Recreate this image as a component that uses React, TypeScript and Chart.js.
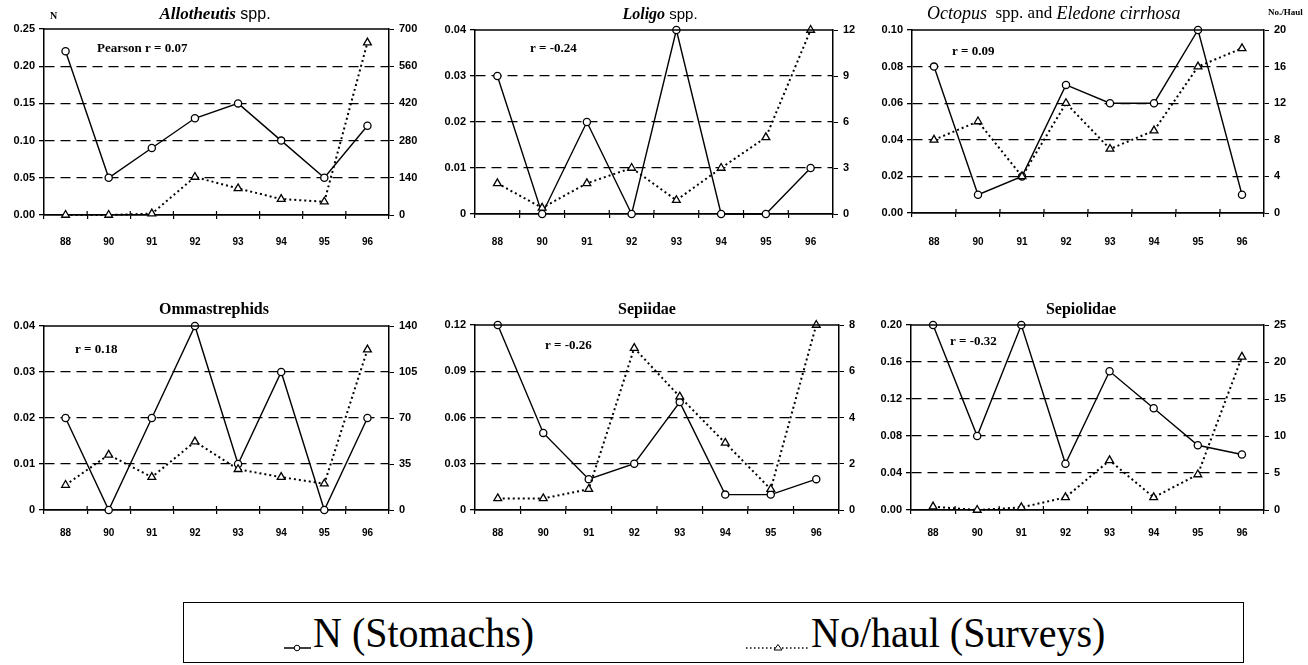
import React, { useEffect, useRef } from "react";
import { Chart, registerables } from "chart.js";

Chart.register(...registerables);

// ---------- data ----------
const years = ["88", "90", "91", "92", "93", "94", "95", "96"];

const allotheutisN = [0.22, 0.05, 0.09, 0.13, 0.15, 0.1, 0.05, 0.12];
const allotheutisHaul = [0, 0, 5, 143, 100, 60, 50, 649];
const loligoN = [0.03, 0, 0.02, 0, 0.04, 0, 0, 0.01];
const loligoHaul = [2, 0.4, 2, 3, 0.9, 3, 5, 12];
const octopusN = [0.08, 0.01, 0.02, 0.07, 0.06, 0.06, 0.1, 0.01];
const octopusHaul = [8, 10, 4, 12, 7, 9, 16, 18];
const ommastrephidsN = [0.02, 0, 0.02, 0.04, 0.01, 0.03, 0, 0.02];
const ommastrephidsHaul = [19, 42, 25, 52, 31, 25, 20, 122];
const sepiidaeN = [0.12, 0.05, 0.02, 0.03, 0.07, 0.01, 0.01, 0.02];
const sepiidaeHaul = [0.5, 0.5, 0.9, 7, 4.9, 2.9, 0.9, 8];
const sepiolidaeN = [0.2, 0.08, 0.2, 0.05, 0.15, 0.11, 0.07, 0.06];
const sepiolidaeHaul = [0.45, 0, 0.35, 1.7, 6.7, 1.7, 4.8, 20.7];

const allotheutisLeftTicks = ["0.00", "0.05", "0.10", "0.15", "0.20", "0.25"];
const allotheutisRightTicks = ["0", "140", "280", "420", "560", "700"];
const loligoLeftTicks = ["0", "0.01", "0.02", "0.03", "0.04"];
const loligoRightTicks = ["0", "3", "6", "9", "12"];
const octopusLeftTicks = ["0.00", "0.02", "0.04", "0.06", "0.08", "0.10"];
const octopusRightTicks = ["0", "4", "8", "12", "16", "20"];
const ommastrephidsLeftTicks = ["0", "0.01", "0.02", "0.03", "0.04"];
const ommastrephidsRightTicks = ["0", "35", "70", "105", "140"];
const sepiidaeLeftTicks = ["0", "0.03", "0.06", "0.09", "0.12"];
const sepiidaeRightTicks = ["0", "2", "4", "6", "8"];
const sepiolidaeLeftTicks = ["0.00", "0.04", "0.08", "0.12", "0.16", "0.20"];
const sepiolidaeRightTicks = ["0", "5", "10", "15", "20", "25"];

const correlations = ["Pearson r = 0.07", "r = -0.24", "r = 0.09", "r = 0.18", "r = -0.26", "r = -0.32"];

const legendN = "N (Stomachs)";
const legendHaul = "No/haul (Surveys)";

// ---------- panel layout ----------
type Seg = { t: string; f: string };
type Panel = {
  n: number[];
  haul: number[];
  leftTicks: string[];
  rightTicks: string[];
  leftMax: number;
  rightMax: number;
  box: { x: number; y: number; w: number; h: number };
  area: { L: number; R: number; T: number; B: number };
  title: Seg[];
  titleX: number;
  titleY: number;
  titleAlign: "center" | "left";
  note: string;
  noteX: number;
  noteY: number;
  xPad: number;
  extra?: { t: string; f: string; x: number; y: number }[];
};

const serif = "'Liberation Serif', 'Times New Roman', serif";
const sans = "'Liberation Sans', Arial, sans-serif";

const panels: Panel[] = [
  {
    n: allotheutisN, haul: allotheutisHaul,
    leftTicks: allotheutisLeftTicks, rightTicks: allotheutisRightTicks,
    leftMax: 0.25, rightMax: 700,
    box: { x: 0, y: 0, w: 430, h: 255 },
    area: { L: 44, R: 389, T: 29, B: 215 },
    title: [{ t: "Allotheutis", f: `italic bold 17px ${serif}` }, { t: " spp.", f: `16px ${sans}` }],
    titleX: 215, titleY: 15, titleAlign: "center",
    note: correlations[0], noteX: 97, noteY: 49, xPad: 17,
    extra: [{ t: "N", f: `bold 10px ${serif}`, x: 50, y: 16 }],
  },
  {
    n: loligoN, haul: loligoHaul,
    leftTicks: loligoLeftTicks, rightTicks: loligoRightTicks,
    leftMax: 0.04, rightMax: 12,
    box: { x: 430, y: 0, w: 430, h: 255 },
    area: { L: 475, R: 833, T: 30, B: 214 },
    title: [{ t: "Loligo", f: `italic bold 16px ${serif}` }, { t: " spp.", f: `15px ${sans}` }],
    titleX: 660, titleY: 15, titleAlign: "center",
    note: correlations[1], noteX: 530, noteY: 49, xPad: 18,
  },
  {
    n: octopusN, haul: octopusHaul,
    leftTicks: octopusLeftTicks, rightTicks: octopusRightTicks,
    leftMax: 0.1, rightMax: 20,
    box: { x: 860, y: 0, w: 448, h: 255 },
    area: { L: 912, R: 1264, T: 30, B: 213 },
    title: [
      { t: "Octopus", f: `italic 18px ${serif}` },
      { t: "  spp. and ", f: `17px ${serif}` },
      { t: "Eledone cirrhosa", f: `italic 18px ${serif}` },
    ],
    titleX: 927, titleY: 14, titleAlign: "left",
    note: correlations[2], noteX: 952, noteY: 52, xPad: 19,
    extra: [{ t: "No./Haul", f: `bold 9px ${serif}`, x: 1268, y: 13 }],
  },
  {
    n: ommastrephidsN, haul: ommastrephidsHaul,
    leftTicks: ommastrephidsLeftTicks, rightTicks: ommastrephidsRightTicks,
    leftMax: 0.04, rightMax: 140,
    box: { x: 0, y: 270, w: 430, h: 285 },
    area: { L: 44, R: 389, T: 326, B: 510 },
    title: [{ t: "Ommastrephids", f: `bold 16px ${serif}` }],
    titleX: 214, titleY: 310, titleAlign: "center",
    note: correlations[3], noteX: 75, noteY: 350, xPad: 13,
  },
  {
    n: sepiidaeN, haul: sepiidaeHaul,
    leftTicks: sepiidaeLeftTicks, rightTicks: sepiidaeRightTicks,
    leftMax: 0.12, rightMax: 8,
    box: { x: 430, y: 270, w: 430, h: 285 },
    area: { L: 475, R: 839, T: 325, B: 510 },
    title: [{ t: "Sepiidae", f: `bold 16px ${serif}` }],
    titleX: 647, titleY: 310, titleAlign: "center",
    note: correlations[4], noteX: 545, noteY: 346, xPad: 13,
  },
  {
    n: sepiolidaeN, haul: sepiolidaeHaul,
    leftTicks: sepiolidaeLeftTicks, rightTicks: sepiolidaeRightTicks,
    leftMax: 0.2, rightMax: 25,
    box: { x: 860, y: 270, w: 448, h: 285 },
    area: { L: 911, R: 1264, T: 325, B: 510 },
    title: [{ t: "Sepiolidae", f: `bold 16px ${serif}` }],
    titleX: 1081, titleY: 310, titleAlign: "center",
    note: correlations[5], noteX: 950, noteY: 342, xPad: 13,
  },
];

const tickFont = { family: sans, size: 11, weight: "bold" as const };

function PanelChart({ p }: { p: Panel }) {
  const ref = useRef<HTMLCanvasElement | null>(null);
  useEffect(() => {
    if (!ref.current) return;
    const { box, area } = p;
    const nLeft = p.leftTicks.length - 1;
    const nRight = p.rightTicks.length - 1;

    const decor = {
      id: "decor" + box.x + "_" + box.y,
      afterDraw(chart: any) {
        const ctx = chart.ctx;
        const ca = chart.chartArea;
        ctx.save();
        ctx.strokeStyle = "#000";
        ctx.lineWidth = 1.5;
        ctx.beginPath();
        ctx.moveTo(ca.left, ca.top);
        ctx.lineTo(ca.right, ca.top);
        ctx.stroke();
        // x tick marks reaching slightly into the plot
        const xs = chart.scales.x;
        const half = (xs.getPixelForTick(1) - xs.getPixelForTick(0)) / 2;
        ctx.lineWidth = 1.2;
        for (let i = 1; i < years.length; i++) {
          const px = xs.getPixelForTick(i) - half;
          ctx.beginPath();
          ctx.moveTo(px, ca.bottom - 4);
          ctx.lineTo(px, ca.bottom);
          ctx.stroke();
        }
        ctx.fillStyle = "#000";
        ctx.textBaseline = "middle";
        let total = 0;
        for (const s of p.title) {
          ctx.font = s.f;
          total += ctx.measureText(s.t).width;
        }
        let x = (p.titleAlign === "center" ? p.titleX - total / 2 : p.titleX) - box.x;
        ctx.textAlign = "left";
        for (const s of p.title) {
          ctx.font = s.f;
          ctx.fillText(s.t, x, p.titleY - box.y);
          x += ctx.measureText(s.t).width;
        }
        ctx.font = `bold 13px ${serif}`;
        ctx.fillText(p.note, p.noteX - box.x, p.noteY - box.y);
        if (p.extra) {
          for (const e of p.extra) {
            ctx.font = e.f;
            ctx.fillText(e.t, e.x - box.x, e.y - box.y);
          }
        }
        ctx.restore();
      },
    };

    const chart = new Chart(ref.current, {
      type: "line",
      data: {
        labels: years,
        datasets: [
          {
            label: legendHaul,
            data: p.haul,
            yAxisID: "y1",
            borderColor: "#000",
            borderWidth: 2,
            borderDash: [2, 3],
            pointStyle: "triangle",
            pointRadius: 4.5,
            pointBackgroundColor: "#fff",
            pointBorderColor: "#000",
            pointBorderWidth: 1.3,
            tension: 0,
            clip: false,
          } as any,
          {
            label: legendN,
            data: p.n,
            yAxisID: "y",
            borderColor: "#000",
            borderWidth: 1.4,
            pointStyle: "circle",
            pointRadius: 3.6,
            pointBackgroundColor: "#fff",
            pointBorderColor: "#000",
            pointBorderWidth: 1.3,
            tension: 0,
            clip: false,
          } as any,
        ],
      },
      options: {
        responsive: false,
        animation: false,
        devicePixelRatio: 1,
        layout: { padding: { top: area.T - box.y, left: 0, right: 0, bottom: 0 } },
        plugins: { legend: { display: false }, tooltip: { enabled: false }, title: { display: false } },
        scales: {
          x: {
            type: "category",
            offset: true,
            grid: { display: true, offset: true, drawOnChartArea: false, tickLength: 4, color: "#000", lineWidth: 1.2 },
            border: { display: true, color: "#000", width: 1.8 },
            ticks: { color: "#000", font: { family: sans, size: 10, weight: "bold" }, padding: p.xPad, autoSkip: false, maxRotation: 0 },
            afterFit: (s: any) => {
              s.height = box.y + box.h - area.B;
            },
          },
          y: {
            position: "left",
            min: 0,
            max: p.leftMax,
            ticks: {
              stepSize: p.leftMax / nLeft,
              color: "#000",
              font: tickFont,
              padding: 4,
              callback: (_v: any, i: number) => p.leftTicks[i],
            },
            grid: {
              color: (c: any) => (c.index === 0 || c.index === nLeft ? "rgba(0,0,0,0)" : "#000"),
              tickColor: "#000",
              lineWidth: 1.3,
              tickLength: 5,
            },
            border: { display: true, color: "#000", width: 1.5, dash: [10, 6] },
            afterFit: (s: any) => {
              s.width = area.L - box.x;
            },
          },
          y1: {
            position: "right",
            min: 0,
            max: p.rightMax,
            ticks: {
              stepSize: p.rightMax / nRight,
              color: "#000",
              font: tickFont,
              padding: 5,
              callback: (_v: any, i: number) => p.rightTicks[i],
            },
            grid: { drawOnChartArea: false, tickColor: "#000", tickLength: 5 },
            border: { display: true, color: "#000", width: 1.5 },
            afterFit: (s: any) => {
              s.width = box.x + box.w - area.R;
            },
          },
        },
      } as any,
      plugins: [decor],
    });
    return () => chart.destroy();
  }, [p]);

  return (
    <canvas
      ref={ref}
      width={p.box.w}
      height={p.box.h}
      style={{ position: "absolute", left: p.box.x, top: p.box.y, width: p.box.w, height: p.box.h }}
    />
  );
}

function Legend() {
  const textStyle: React.CSSProperties = {
    position: "absolute",
    fontFamily: serif,
    fontSize: 40,
    lineHeight: "40px",
    whiteSpace: "nowrap",
    color: "#000",
    transform: "scaleY(1.08)",
    transformOrigin: "left bottom",
  };
  return (
    <div
      style={{
        position: "absolute",
        left: 183,
        top: 602,
        width: 1061,
        height: 61,
        border: "1.5px solid #000",
        boxSizing: "border-box",
      }}
    >
      <svg width={1061} height={61} style={{ position: "absolute", left: 0, top: 0 }}>
        <line x1={100} y1={45} x2={127} y2={45} stroke="#000" strokeWidth={1.5} />
        <circle cx={113} cy={45} r={2.8} fill="#fff" stroke="#000" strokeWidth={1} />
        <line x1={562} y1={45} x2={625} y2={45} stroke="#000" strokeWidth={1.5} strokeDasharray="1.5 2.5" />
        <polygon points="590,47 594,41.5 598,47" fill="#fff" stroke="#000" strokeWidth={1} />
      </svg>
      <span style={{ ...textStyle, left: 129, top: 12 }}>{legendN}</span>
      <span style={{ ...textStyle, left: 627, top: 12 }}>{legendHaul}</span>
    </div>
  );
}

export default function App() {
  return (
    <div style={{ position: "absolute", left: 0, top: 0, width: 1308, height: 665, background: "#fff", overflow: "hidden" }}>
      {panels.map((p, i) => (
        <PanelChart key={i} p={p} />
      ))}
      <Legend />
    </div>
  );
}
